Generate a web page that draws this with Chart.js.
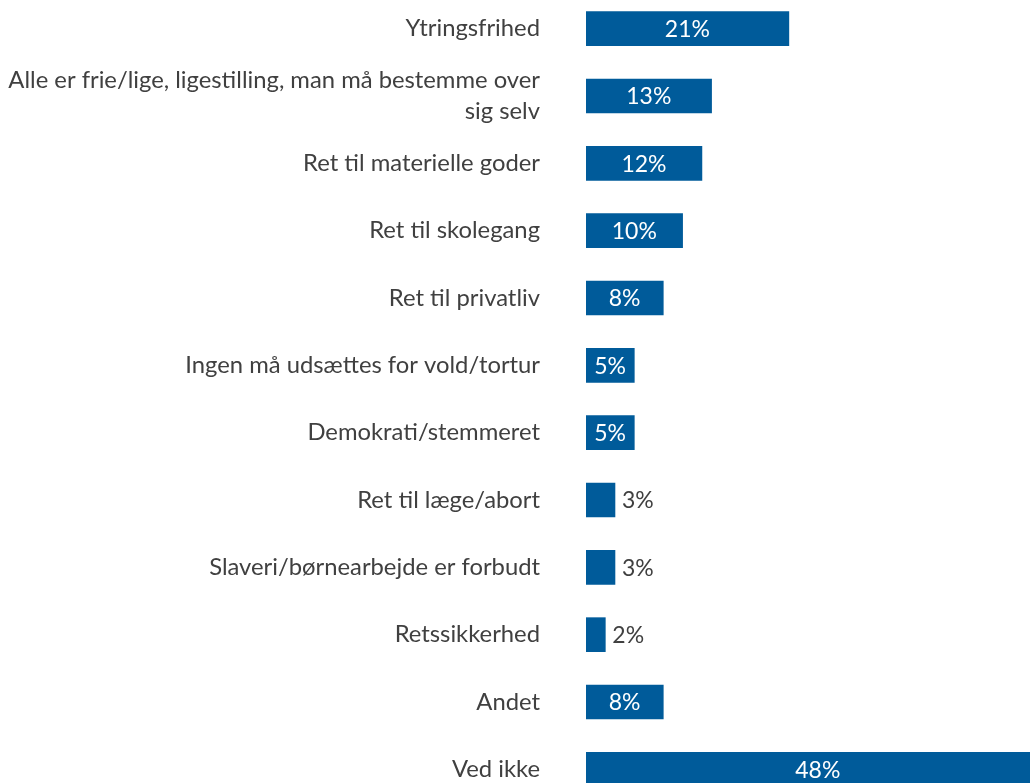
<!DOCTYPE html>
<html>
<head>
<meta charset="utf-8">
<script src="https://cdn.jsdelivr.net/npm/chart.js@4/dist/chart.umd.min.js"></script>
<style>
  html, body { margin: 0; padding: 0; background: #fff; overflow: hidden; }
  #wrap { position: absolute; left: 0; top: -5px; width: 1069px; height: 808px; }
</style>
</head>
<body>
<div id="wrap"><canvas id="barChart"></canvas></div>
<script>
const categories = [
    'Ytringsfrihed',
    ['Alle er frie/lige, ligestilling, man må bestemme over', 'sig selv'],
    'Ret til materielle goder',
    'Ret til skolegang',
    'Ret til privatliv',
    'Ingen må udsættes for vold/tortur',
    'Demokrati/stemmeret',
    'Ret til læge/abort',
    'Slaveri/børnearbejde er forbudt',
    'Retssikkerhed',
    'Andet',
    'Ved ikke'
];
const values = [21, 13, 12, 10, 8, 5, 5, 3, 3, 2, 8, 48];

const barColor = '#005b9a';
const textColor = '#404040';
const fontFamily = 'Lato, "Open Sans", sans-serif';

// labels inside the bar (white) or just after it (dark) for small values
const valueLabels = {
    id: 'valueLabels',
    afterDatasetsDraw(chart) {
        const ctx = chart.ctx;
        const meta = chart.getDatasetMeta(0);
        ctx.save();
        ctx.font = '23px ' + fontFamily;
        ctx.textBaseline = 'middle';
        meta.data.forEach((bar, i) => {
            const v = values[i];
            const txt = v + '%';
            if (v >= 5) {
                ctx.fillStyle = '#ffffff';
                ctx.textAlign = 'center';
                ctx.fillText(txt, (bar.base + bar.x) / 2, bar.y + 1);
            } else {
                ctx.fillStyle = textColor;
                ctx.textAlign = 'left';
                ctx.fillText(txt, bar.x + 7, bar.y + 1);
            }
        });
        ctx.restore();
    }
};

const ctx = document.getElementById('barChart').getContext('2d');
const myChart = new Chart(ctx, {
    type: 'bar',
    data: {
        labels: categories,
        datasets: [{
            data: values,
            backgroundColor: barColor,
            borderWidth: 0,
            barThickness: 34
        }]
    },
    options: {
        indexAxis: 'y',
        responsive: true,
        maintainAspectRatio: false,
        animation: false,
        layout: { padding: 0 },
        plugins: {
            legend: { display: false },
            tooltip: { enabled: false }
        },
        scales: {
            x: {
                display: false,
                min: 0,
                max: 50
            },
            y: {
                afterFit(scale) {
                    scale.width = 586;
                    scale.paddingTop = 0;
                    scale.paddingBottom = 0;
                },
                grid: { display: false, drawTicks: false },
                border: { display: false },
                ticks: {
                    padding: 46,
                    color: textColor,
                    font: { family: fontFamily, size: 23.8, lineHeight: 1.3 }
                }
            }
        }
    },
    plugins: [valueLabels]
});
</script>
</body>
</html>
